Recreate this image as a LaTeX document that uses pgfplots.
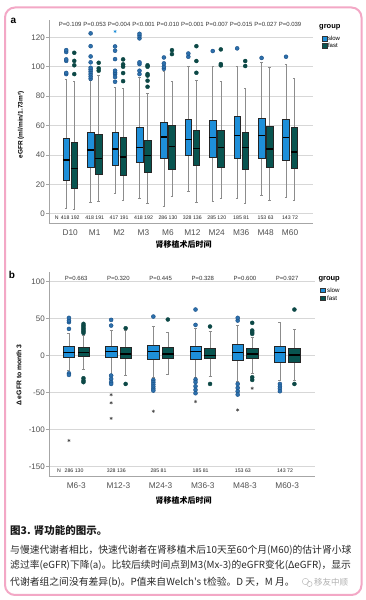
\documentclass[border=0pt]{standalone}
\usepackage{fontspec}
\setmainfont{Liberation Sans}
\newfontfamily\cjk{Noto Sans CJK SC}
\usepackage{pgfplots}
\pgfplotsset{compat=1.18}
\usepgfplotslibrary{statistics}
\definecolor{slowc}{RGB}{30,143,217}
\definecolor{fastc}{RGB}{8,84,80}
\definecolor{slowo}{RGB}{45,112,172}
\definecolor{slowoe}{RGB}{25,80,135}
\definecolor{fasto}{RGB}{12,72,70}
\definecolor{pinkb}{RGB}{243,168,198}
\definecolor{tickc}{RGB}{80,80,80}
\definecolor{gridc}{RGB}{215,215,215}
\definecolor{whisk}{RGB}{140,140,140}
\definecolor{captc}{RGB}{40,40,40}
\pgfplotsset{
  spss/.style={scale only axis, axis x line*=bottom, axis y line*=left,
    axis line style={draw=gray!70, line width=0.6pt},
    ymajorgrids, grid style={draw=gridc, line width=0.7pt},
    xtick style={draw=none}, ytick style={draw=gray!70, line width=0.6pt},
    tick align=outside, major tick length=3pt,
    yticklabel style={font=\fontsize{8}{9}\selectfont, text=tickc, inner sep=1pt},
    xticklabel style={font=\fontsize{8.3}{9}\selectfont, text=tickc},
    /pgf/number format/assume math mode=true, clip=false},
  slowb/.style={draw=whisk, line width=0.6pt, mark=*, mark size=2pt,
    mark options={fill=slowo, draw=slowoe, line width=0.4pt},
    boxplot/draw direction=y,
    boxplot/every box/.style={fill=slowc, draw=black!85, line width=0.5pt},
    boxplot/every median/.style={draw=black, line width=1.3pt},
    boxplot/every whisker/.style={draw=whisk, line width=0.6pt}},
  fastb/.style={draw=whisk, line width=0.6pt, mark=*, mark size=2pt,
    mark options={fill=fasto, draw=fasto, line width=0.4pt},
    boxplot/draw direction=y,
    boxplot/every box/.style={fill=fastc, draw=black!85, line width=0.5pt},
    boxplot/every median/.style={draw=black, line width=1.3pt},
    boxplot/every whisker/.style={draw=whisk, line width=0.6pt}},
}
\newcommand\SB[7]{\addplot[slowb, boxplot prepared={draw position=#1, lower whisker=#2, lower quartile=#3, median=#4, upper quartile=#5, upper whisker=#6}] coordinates {#7};}
\newcommand\FB[7]{\addplot[fastb, boxplot prepared={draw position=#1, lower whisker=#2, lower quartile=#3, median=#4, upper quartile=#5, upper whisker=#6}] coordinates {#7};}
\begin{document}
\begin{tikzpicture}
\begin{scope}[x=1pt,y=1pt]
\useasboundingbox (0,0) rectangle (366,600);
\fill[white] (0,0) rectangle (366,600);
\draw[pinkb, line width=2pt, rounded corners=10pt] (5,5) rectangle (361.5,592.5);
\node[font=\bfseries\fontsize{10}{12}\selectfont] at (13.5,579.5) {a};
\node[rotate=90, font=\bfseries\fontsize{6.5}{8}\selectfont] at (21,475) {eGFR (ml/min/1.73m²)};
\node[font=\cjk\bfseries\fontsize{8}{10}\selectfont] at (183.5,355.7) {肾移植术后时间};
\node[anchor=west, font=\bfseries\fontsize{7.5}{9}\selectfont, inner sep=0] at (319,572.3) {group};
\draw[fill=slowc, draw=black!80, line width=0.3pt] (321.7,559.3) rectangle (326.7,564);
\draw[fill=fastc, draw=black!80, line width=0.3pt] (321.7,552) rectangle (326.7,556.5);
\node[anchor=west, font=\fontsize{6}{7}\selectfont, inner sep=0] at (327.8,561.7) {slow};
\node[anchor=west, font=\fontsize{6}{7}\selectfont, inner sep=0] at (327.8,554.3) {fast};
\node[font=\bfseries\fontsize{10}{12}\selectfont] at (12,325) {b};
\node[rotate=90, font=\bfseries\fontsize{6.8}{8}\selectfont] at (19,225) {Δ eGFR to month 3};
\node[font=\cjk\bfseries\fontsize{8}{10}\selectfont] at (183.5,99.3) {肾移植术后时间};
\node[anchor=west, font=\bfseries\fontsize{7.5}{9}\selectfont, inner sep=0] at (318.3,321) {group};
\draw[fill=slowc, draw=black!80, line width=0.3pt] (320.5,307.5) rectangle (325.5,312.3);
\draw[fill=fastc, draw=black!80, line width=0.3pt] (320.5,299.5) rectangle (325.5,304.3);
\node[anchor=west, font=\fontsize{6.2}{7}\selectfont, inner sep=0] at (327,310) {slow};
\node[anchor=west, font=\fontsize{6.2}{7}\selectfont, inner sep=0] at (327,302) {fast};
\node[anchor=west, inner sep=0, font=\cjk\bfseries\fontsize{10.5}{12}\selectfont, text=black!90] at (10,69) {图3. 肾功能的图示。};
\node[anchor=west, inner sep=0, font=\cjk\fontsize{9.8}{12}\selectfont, text=captc] at (10,50) {与慢速代谢者相比，快速代谢者在肾移植术后10天至60个月(M60)的估计肾小球};
\node[anchor=west, inner sep=0, font=\cjk\fontsize{9.8}{12}\selectfont, text=captc] at (10,34.3) {滤过率(eGFR)下降(a)。比较后续时间点到M3(Mx-3)的eGFR变化(ΔeGFR)，显示};
\node[anchor=west, inner sep=0, font=\cjk\fontsize{9.8}{12}\selectfont, text=captc] at (10,17.7) {代谢者组之间没有差异(b)。P值来自Welch's t检验。D 天，M 月。};
\draw[gray!50, line width=0.5pt] (305.5,18.5) circle (3.2);
\draw[gray!50, line width=0.5pt] (309.5,16) circle (2.6);
\node[anchor=west, inner sep=0, font=\cjk\fontsize{8.5}{10}\selectfont, text=gray!60] at (314,17.7) {移友中顺};
\end{scope}
% ---------------- panel a
\begin{axis}[spss, at={(49pt,376.7pt)}, anchor=south west, width=264pt, height=203.3pt,
  xmin=-0.87, xmax=9.94, ymin=-6.5, ymax=131.8, ytick={0,20,...,120},
  xtick={0,...,9}, xticklabels={D10,M1,M2,M3,M6,M12,M24,M36,M48,M60},
  boxplot/box extend=0.27, boxplot/whisker extend=0.1]
\SB{-0.165}{3.9}{23.1}{36.5}{51.2}{91.6}{(0,95)(0,95.8)(0,104)(0,105)(0,110)(0,111.3)}
\FB{0.165}{3}{17.5}{31}{48.3}{89.8}{(0,95)(0,101)(0,104)(0,109.5)}
\SB{0.835}{7.7}{31.5}{43.3}{55.3}{90.5}{(0,91.8)(0,93.4)(0,95)(0,96.6)(0,98)(0,99.3)(0,103)(0,107)(0,114)(0,122.7)}
\FB{1.165}{8.8}{27}{37.4}{54}{94}{(0,97.3)(0,98.9)(0,102.7)}
\SB{1.835}{14}{32.7}{44}{55.3}{86}{(0,89.8)(0,93)(0,95)(0,95.9)(0,97.3)(0,105.2)(0,110.9)(0,113.8)}
\FB{2.165}{9.3}{26.5}{38.5}{51.9}{85}{(0,90.2)(0,95.7)(0,100)(0,101.6)(0,105)}
\SB{2.835}{10.2}{34.9}{45.1}{58.7}{93}{(0,95)(0,97.3)(0,101.8)(0,103)(0,119.3)(0,121)(0,122.4)}
\FB{3.165}{7}{28.3}{39.7}{49.7}{81.9}{(0,86.4)(0,90.5)(0,94)(0,95)(0,100)(0,101)}
\SB{3.835}{5.2}{37.9}{52.2}{61.9}{97}{(0,98.6)(0,100)(0,102.3)(0,106.3)}
\FB{4.165}{12}{30.4}{45.8}{60.3}{90.2}{(0,108.6)(0,111.3)}
\SB{4.835}{15.2}{39.5}{50.6}{64.6}{100}{(0,106.8)(0,109)}
\FB{5.165}{7.5}{33.1}{44.2}{56.7}{90.7}{(0,95.9)(0,103.9)(0,114)}
\SB{5.835}{8.4}{38.3}{51.9}{63.3}{100}{(0,110.7)}
\FB{6.165}{10.2}{31.7}{44.9}{57.1}{90.2}{(0,100.9)(0,101.8)(0,111.8)}
\SB{6.835}{10.7}{37.9}{53.3}{66.4}{100.5}{(0,112.5)}
\FB{7.165}{7}{30.2}{44.9}{55.3}{85}{(0,100.5)(0,103.9)}
\SB{7.835}{12.5}{37.9}{53.1}{65.1}{103}{(0,106)}
\FB{8.165}{9.3}{31.3}{44}{59.2}{99.5}{}
\SB{8.835}{11.1}{36.5}{51.9}{64.6}{101.6}{(0,106.8)}
\FB{9.165}{9.3}{30.8}{41.9}{58.5}{92.1}{}
\addplot[only marks, mark=asterisk, mark size=1.6pt, draw=slowc, line width=0.5pt] coordinates {(1.835,124)};
\foreach \i/\p in {0/P=0.109,1/P=0.053,2/P=0.004,3/P<0.001,4/P=0.010,5/P=0.001,6/P=0.007,7/P=0.015,8/P=0.027,9/P=0.039}{
  \edef\tmp{\noexpand\node[font=\noexpand\fontsize{6}{7}\noexpand\selectfont, text=black!80] at (axis cs:\i,129) {\p};}\tmp}
\foreach \i/\n in {0/418 192,1/418 191,2/417 191,3/418 192,4/286 130,5/328 136,6/285 120,7/185 81,8/153 63,9/143 72}{
  \edef\tmp{\noexpand\node[font=\noexpand\fontsize{5.2}{6}\noexpand\selectfont, text=black!85] at (axis cs:\i,-3) {\n};}\tmp}
\node[font=\fontsize{5.2}{6}\selectfont, text=black!85, anchor=east] at (axis cs:-0.33,-3) {N};
\end{axis}
% ---------------- panel b
\begin{axis}[spss, at={(49pt,124pt)}, anchor=south west, width=266pt, height=204.3pt,
  xmin=-0.645, xmax=5.66, ymin=-163, ymax=113.5, ytick={-150,-100,...,100},
  xtick={0,...,5}, xticklabels={M6-3,M12-3,M24-3,M36-3,M48-3,M60-3},
  boxplot/box extend=0.27, boxplot/whisker extend=0.07,
  every axis plot/.append style={mark size=2.3pt}]
\SB{-0.172}{-20.3}{-2.3}{4.5}{12.2}{30.7}{(0,36.1)(0,45.2)(0,47.4)(0,51)(0,-24)(0,-26.2)}
\FB{0.172}{-18}{-1.4}{4.5}{11.3}{28}{(0,30.5)(0,32.5)(0,34.5)(0,36.5)(0,38.6)(0,40.7)(0,42.9)(0,-30.7)(0,-33.9)(0,-36)}
\SB{0.828}{-24.8}{-2.3}{5.9}{12.2}{34.8}{(0,40.6)(0,48.3)(0,-27)(0,-31.6)(0,-36)(0,-38.4)}
\FB{1.172}{-26.2}{-3.6}{2.3}{11.3}{34}{(0,37)(0,-38.4)}
\SB{1.828}{-29.4}{-4.5}{5.4}{13.5}{39.3}{(0,52.8)(0,-33)(0,-36)(0,-39)(0,-42)(0,-45)(0,-47.4)}
\FB{2.172}{-24.8}{-3.6}{2.3}{11.3}{31.2}{(0,48.8)}
\SB{2.828}{-29.4}{-4.5}{5.4}{12.6}{37}{(0,41.5)(0,62.3)(0,-32.5)(0,-36)(0,-41.5)(0,-46.5)(0,-51)}
\FB{3.172}{-28}{-4}{0}{10.4}{32.5}{(0,39.3)(0,-38.4)}
\SB{3.828}{-34.8}{-5.9}{4.5}{14.9}{41.5}{(0,47.4)(0,51)(0,-38.4)(0,-43.8)(0,-48.3)(0,-52.8)}
\FB{4.172}{-23.5}{-4}{2.3}{10.4}{24.8}{(0,29.4)(0,31.6)(0,33.9)(0,44.3)(0,-29.4)(0,-33)}
\SB{4.828}{-33}{-9}{4.5}{12.2}{45.2}{(0,-38.4)(0,-42)(0,-45)(0,-48.3)}
\FB{5.172}{-33}{-9}{0.9}{9.9}{36.1}{(0,62.3)(0,-38.4)}
\addplot[only marks, mark=asterisk, mark size=1.6pt, draw=black!70, line width=0.5pt] coordinates {(-0.172,-115)(0.828,-53)(0.828,-64)(0.828,-85)(1.828,-75.4)(2.828,-62.3)(3.828,-73.6)(4.172,-44.3)};
\foreach \i/\p in {0/P=0.663,1/P=0.320,2/P=0.445,3/P=0.328,4/P=0.600,5/P=0.927}{
  \edef\tmp{\noexpand\node[font=\noexpand\fontsize{6}{7}\noexpand\selectfont, text=black!80] at (axis cs:\i,104.7) {\p};}\tmp}
\foreach \i/\n in {0/286 130,1/328 136,2/285 81,3/185 81,4/153 63,5/143 72}{
  \edef\tmp{\noexpand\node[font=\noexpand\fontsize{5.2}{6}\noexpand\selectfont, text=black!85] at (axis cs:\i-0.05,-156) {\n};}\tmp}
\node[font=\fontsize{5.2}{6}\selectfont, text=black!85, anchor=east] at (axis cs:-0.28,-156) {N};
\end{axis}
\end{tikzpicture}
\end{document}
